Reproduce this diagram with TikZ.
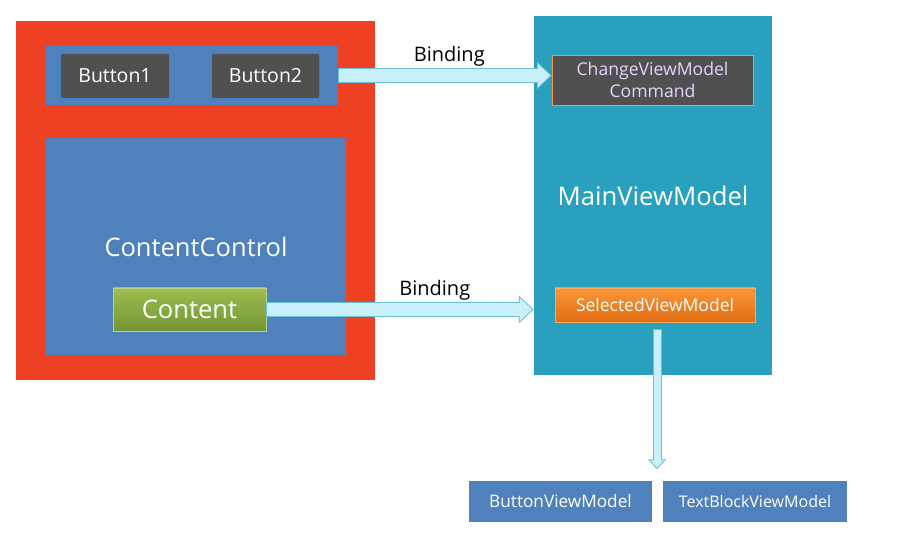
\documentclass[tikz,border=0pt]{standalone}
\usepackage{fontspec}
\setmainfont{Open Sans}
\usetikzlibrary{arrows.meta}
\pgfdeclarelayer{bg}
\pgfsetlayers{bg,main}
\definecolor{viewred}{RGB}{238,65,35}
\definecolor{panelblue}{RGB}{79,129,189}
\definecolor{btngrey}{RGB}{80,80,80}
\definecolor{vmteal}{RGB}{41,160,189}
\definecolor{cmdtext}{RGB}{232,212,255}
\definecolor{cmdline}{RGB}{247,150,70}
\definecolor{greentop}{RGB}{158,190,80}
\definecolor{greenbot}{RGB}{116,148,52}
\definecolor{orangetop}{RGB}{250,150,55}
\definecolor{orangebot}{RGB}{226,110,20}
\definecolor{linkface}{RGB}{200,240,251}
\definecolor{linkedge}{RGB}{105,192,216}
\tikzset{
  box/.style={shape=rectangle,inner sep=0pt,text=white},
  bindlabel/.style={inner sep=0pt,above=1.5pt,text=black,font=\fontsize{20}{24}\selectfont},
  bindedge/.style={draw=linkedge,line width=15pt,-{Triangle[length=15pt,width=27pt]}},
  bindface/.style={draw=linkface,line width=13pt,shorten <=1pt,shorten >=1.5pt,-{Triangle[length=12.5pt,width=22.5pt]}},
  flowedge/.style={draw=linkedge,line width=9pt,-{Triangle[length=10pt,width=18pt]}},
  flowface/.style={draw=linkface,line width=7pt,shorten <=1pt,shorten >=1.5pt,-{Triangle[length=7.5pt,width=13.5pt]}},
}

\begin{document}
\begin{tikzpicture}[x=1pt,y=-1pt]
\useasboundingbox (0,0) rectangle (897,553);

% Draw the containers...
\begin{pgfonlayer}{bg}
\node (view) at (195.5,200.5) [box,fill=viewred,minimum width=359pt,minimum height=359pt] {};
\node (toppanel) at (192,75.5) [box,fill=panelblue,minimum width=292pt,minimum height=59pt] {};
\node (ccpanel) at (196,246.5) [box,fill=panelblue,minimum width=300pt,minimum height=217pt,font=\fontsize{25.5}{30}\selectfont] {ContentControl};
\node (mainvm) at (653,195.5) [box,fill=vmteal,minimum width=238pt,minimum height=359pt,font=\fontsize{25.7}{30}\selectfont] {MainViewModel};
\end{pgfonlayer}

% Draw the nodes...
\node (btn1) at (115,76) [box,fill=btngrey,rounded corners=1pt,minimum width=108pt,minimum height=44pt,font=\fontsize{19.5}{23}\selectfont] {Button1};
\node (btn2) at (265.5,76) [box,fill=btngrey,rounded corners=1pt,minimum width=107pt,minimum height=44pt,font=\fontsize{19.5}{23}\selectfont] {Button2};
\node (content) at (189.5,309.5) [box,top color=greentop,bottom color=greenbot,draw=greentop!70!white,minimum width=153pt,minimum height=43pt,font=\fontsize{25.6}{30}\selectfont] {Content};
\node (cmd) at (652.5,80) [box,fill=btngrey,draw=cmdline,text=cmdtext,minimum width=201pt,minimum height=50pt,align=center,font=\fontsize{17.6}{22}\selectfont] {ChangeViewModel\\Command};
\node (selected) at (655,305) [box,top color=orangetop,bottom color=orangebot,draw=orangetop!80!white,minimum width=200pt,minimum height=34pt,font=\fontsize{17.5}{20}\selectfont] {SelectedViewModel};
\node (buttonvm) at (560.5,501) [box,fill=panelblue,minimum width=183pt,minimum height=41pt,font=\fontsize{17.2}{20}\selectfont] {ButtonViewModel};
\node (textblockvm) at (755,501.5) [box,fill=panelblue,minimum width=184pt,minimum height=41pt,font=\fontsize{16}{19}\selectfont] {TextBlockViewModel};

% Draw the edges...
\draw[bindedge] (toppanel.east) -- (toppanel.east -| cmd.west) node[pos=.52,bindlabel] {Binding};
\draw[bindface] (toppanel.east) -- (toppanel.east -| cmd.west);
\draw[bindedge] (content.east) -- (content.east -| mainvm.west) node[pos=.63,bindlabel] {Binding};
\draw[bindface] (content.east) -- (content.east -| mainvm.west);
\draw[flowedge,shorten <=7pt,shorten >=11pt] ([xshift=2pt]selected.south) -- ([xshift=2pt]selected.south |- buttonvm.north);
\draw[flowface,shorten <=8pt,shorten >=12.5pt] ([xshift=2pt]selected.south) -- ([xshift=2pt]selected.south |- buttonvm.north);

\end{tikzpicture}
\end{document}
